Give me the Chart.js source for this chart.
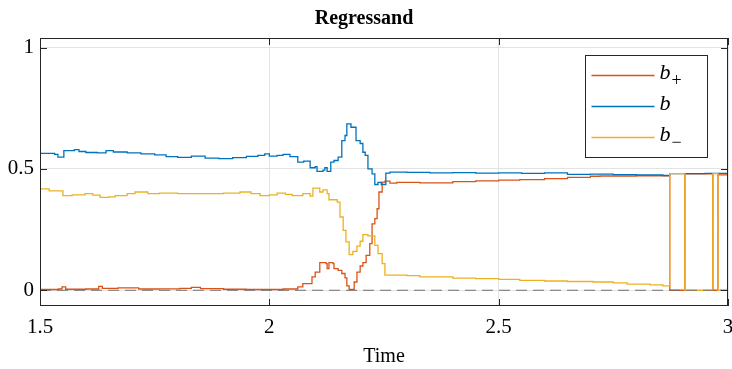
<!DOCTYPE html>
<html>
<head>
<meta charset="utf-8">
<script src="https://cdn.jsdelivr.net/npm/chart.js@4/dist/chart.umd.min.js"></script>
<style>
  html, body { margin: 0; padding: 0; background: #fff; }
  #wrap { width: 732px; height: 369px; }
</style>
</head>
<body>
<div id="wrap"><canvas id="chart"></canvas></div>
<script>
const xTicks = [1.5, 2, 2.5, 3];
const yTicks = [0, 0.5, 1];

// b (blue)
const tMid = [1.5, 1.532, 1.539, 1.552, 1.575, 1.585, 1.6, 1.625, 1.644, 1.66, 1.69, 1.72, 1.75, 1.775, 1.8, 1.83, 1.86, 1.89, 1.92, 1.95, 1.975, 1.99, 2.0, 2.017, 2.03, 2.045, 2.062, 2.075, 2.089, 2.1, 2.104, 2.117, 2.121, 2.126, 2.134, 2.141, 2.15, 2.158, 2.165, 2.169, 2.178, 2.189, 2.198, 2.204, 2.209, 2.215, 2.224, 2.23, 2.237, 2.244, 2.254, 2.263, 2.3, 2.35, 2.4, 2.45, 2.5, 2.55, 2.6, 2.65, 2.7, 2.75, 2.8, 2.858, 2.873, 2.95, 3.0];
const bMid = [0.564, 0.56, 0.549, 0.576, 0.58, 0.572, 0.568, 0.566, 0.576, 0.57, 0.566, 0.562, 0.558, 0.551, 0.548, 0.553, 0.545, 0.543, 0.547, 0.552, 0.556, 0.562, 0.553, 0.556, 0.56, 0.551, 0.528, 0.532, 0.505, 0.51, 0.49, 0.495, 0.505, 0.49, 0.528, 0.535, 0.549, 0.617, 0.638, 0.686, 0.672, 0.617, 0.605, 0.569, 0.556, 0.5, 0.48, 0.436, 0.445, 0.436, 0.483, 0.487, 0.486, 0.484, 0.485, 0.483, 0.484, 0.482, 0.484, 0.478, 0.479, 0.477, 0.476, 0.473, 0.481, 0.482, 0.48];

// b- (yellow)
const tMinus = [1.5, 1.52, 1.55, 1.57, 1.598, 1.615, 1.631, 1.65, 1.664, 1.69, 1.707, 1.735, 1.76, 1.8, 1.85, 1.9, 1.936, 1.96, 1.98, 2.0, 2.017, 2.035, 2.05, 2.073, 2.089, 2.095, 2.11, 2.117, 2.126, 2.13, 2.148, 2.154, 2.161, 2.167, 2.174, 2.182, 2.191, 2.198, 2.204, 2.215, 2.23, 2.237, 2.246, 2.252, 2.3, 2.328, 2.4, 2.45, 2.5, 2.546, 2.6, 2.65, 2.706, 2.75, 2.78, 2.83, 2.858, 2.873, 2.906, 2.967, 2.978, 3.0];
const bMinus = [0.418, 0.41, 0.39, 0.393, 0.398, 0.392, 0.383, 0.385, 0.39, 0.398, 0.405, 0.398, 0.4, 0.398, 0.398, 0.4, 0.405, 0.398, 0.39, 0.393, 0.4, 0.395, 0.39, 0.398, 0.388, 0.421, 0.405, 0.414, 0.398, 0.373, 0.363, 0.302, 0.247, 0.199, 0.147, 0.16, 0.182, 0.202, 0.229, 0.224, 0.185, 0.151, 0.11, 0.062, 0.06, 0.055, 0.05, 0.048, 0.045, 0.041, 0.038, 0.036, 0.034, 0.03, 0.025, 0.022, 0.018, 0.481, 0.0, 0.481, 0.0, 0.0];

// b+ (red)
const tPlus = [1.5, 1.54, 1.548, 1.556, 1.6, 1.628, 1.636, 1.67, 1.715, 1.76, 1.805, 1.83, 1.85, 1.9, 1.95, 2.0, 2.03, 2.062, 2.073, 2.093, 2.1, 2.11, 2.124, 2.126, 2.13, 2.139, 2.141, 2.15, 2.158, 2.165, 2.169, 2.174, 2.185, 2.191, 2.198, 2.204, 2.211, 2.219, 2.224, 2.23, 2.235, 2.239, 2.246, 2.252, 2.263, 2.278, 2.328, 2.4, 2.45, 2.5, 2.546, 2.6, 2.65, 2.7, 2.721, 2.8, 2.873, 2.906, 2.967, 2.978, 3.0];
const bPlus = [0.003, 0.005, 0.014, 0.004, 0.005, 0.016, 0.008, 0.01, 0.005, 0.006, 0.008, 0.012, 0.007, 0.004, 0.003, 0.003, 0.005, 0.014, 0.027, 0.055, 0.075, 0.114, 0.11, 0.089, 0.114, 0.11, 0.089, 0.082, 0.069, 0.051, 0.018, 0.003, 0.034, 0.075, 0.1, 0.114, 0.144, 0.192, 0.274, 0.295, 0.336, 0.405, 0.446, 0.45, 0.442, 0.445, 0.443, 0.448, 0.451, 0.454, 0.456, 0.46, 0.465, 0.47, 0.471, 0.472, 0.0, 0.48, 0.0, 0.476, 0.476];

const tZero = [1.5, 3.0];
const bZero = [0, 0];

const seriesNames = ["b", "b", "b"];
const seriesSubs = ["+", "", "\u2212"];
const seriesColors = ["#D95319", "#0072BD", "#EDB120"];

const serif = "'Liberation Serif', 'Times New Roman', serif";

function pts(ts, ys) {
  return ts.map((t, i) => ({ x: t, y: ys[i] }));
}

const framePlugin = {
  id: "frame",
  afterDraw(chart) {
    const { ctx, chartArea: a, scales } = chart;
    ctx.save();
    ctx.strokeStyle = "#262626";
    ctx.lineWidth = 1;
    ctx.strokeRect(a.left + 0.5, a.top + 0.5, a.right - a.left - 1, a.bottom - a.top - 1);
    ctx.beginPath();
    xTicks.forEach((v) => {
      const x = Math.round(scales.x.getPixelForValue(v)) + 0.5;
      ctx.moveTo(x, a.bottom); ctx.lineTo(x, a.bottom - 7);
      ctx.moveTo(x, a.top); ctx.lineTo(x, a.top + 7);
    });
    yTicks.forEach((v) => {
      const y = Math.round(scales.y.getPixelForValue(v)) + 0.5;
      ctx.moveTo(a.left, y); ctx.lineTo(a.left + 7, y);
      ctx.moveTo(a.right, y); ctx.lineTo(a.right - 7, y);
    });
    ctx.stroke();

    // legend box
    const bx = a.right - 142.5, by = a.top + 17.5, bw = 122, bh = 102;
    ctx.fillStyle = "#fff";
    ctx.fillRect(bx, by, bw, bh);
    ctx.strokeRect(bx, by, bw, bh);
    seriesNames.forEach((name, i) => {
      const y = by + 20 + i * 31;
      ctx.strokeStyle = seriesColors[i];
      ctx.lineWidth = 1.5;
      ctx.beginPath();
      ctx.moveTo(bx + 6, y); ctx.lineTo(bx + 69, y);
      ctx.stroke();
      ctx.fillStyle = "#000";
      ctx.textBaseline = "middle";
      ctx.font = "italic 22px " + serif;
      ctx.fillText(name, bx + 74, y - 2);
      const w = ctx.measureText(name).width;
      ctx.font = "18px " + serif;
      ctx.fillText(seriesSubs[i], bx + 75 + w, y + 6);
    });
    ctx.restore();
  },
};

function lineSet(label, ts, ys, color, order) {
  return {
    label,
    data: pts(ts, ys),
    borderColor: color,
    borderWidth: 1.3,
    pointRadius: 0,
    stepped: "before",
    fill: false,
    order,
  };
}

const ctx = document.getElementById("chart").getContext("2d");
new Chart(ctx, {
  type: "line",
  data: {
    datasets: [
      {
        label: "zero",
        data: pts(tZero, bZero),
        borderColor: "#707070",
        borderWidth: 1.2,
        borderDash: [11, 6],
        pointRadius: 0,
        order: 0,
      },
      lineSet("b-", tMinus, bMinus, seriesColors[2], 1),
      lineSet("b", tMid, bMid, seriesColors[1], 2),
      lineSet("b+", tPlus, bPlus, seriesColors[0], 3),
    ],
  },
  options: {
    responsive: true,
    maintainAspectRatio: false,
    animation: false,
    layout: { padding: { right: 4, left: 0, top: 0, bottom: 0 } },
    plugins: {
      legend: { display: false },
      tooltip: { enabled: false },
      title: {
        display: true,
        text: "Regressand",
        color: "#000",
        font: { family: serif, size: 20, weight: "bold", lineHeight: 1.2 },
        padding: { top: 7, bottom: 7 },
      },
    },
    scales: {
      x: {
        type: "linear",
        min: 1.5,
        max: 3,
        afterBuildTicks: (s) => { s.ticks = xTicks.map((v) => ({ value: v })); },
        afterFit: (s) => { s.height = 63; s.paddingLeft = 0; s.paddingRight = 0; },
        grid: { color: "#e3e3e3", drawTicks: false },
        border: { display: false },
        ticks: {
          color: "#000",
          padding: 9,
          maxRotation: 0,
          font: { family: serif, size: 21 },
          callback: (v) => String(v),
        },
        title: {
          display: true,
          text: "Time",
          color: "#000",
          font: { family: serif, size: 20 },
          padding: { top: 0, bottom: 0 },
        },
      },
      y: {
        min: -0.065,
        max: 1.04,
        afterBuildTicks: (s) => { s.ticks = yTicks.map((v) => ({ value: v })); },
        afterFit: (s) => { s.width = 40; s.paddingTop = 0; s.paddingBottom = 0; },
        grid: { color: "#e3e3e3", drawTicks: false },
        border: { display: false },
        ticks: {
          color: "#000",
          padding: 6,
          font: { family: serif, size: 21 },
          callback: (v) => String(v),
        },
      },
    },
  },
  plugins: [framePlugin],
});
</script>
</body>
</html>
